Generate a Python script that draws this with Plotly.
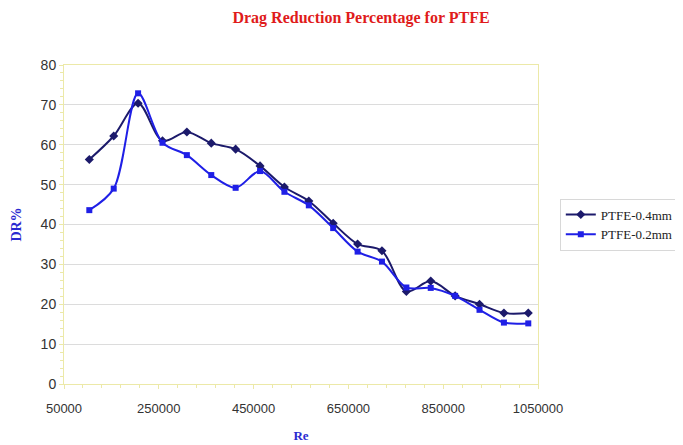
import plotly.graph_objects as go

# Data
re_values = [103400, 154900, 206300, 257800, 309200, 360700, 412100, 463600, 515000,
             566500, 617900, 669400, 720800, 772300, 823700, 875200, 926600, 978100, 1029500]
dr_04mm = [56.3, 62.2, 70.4, 61.0, 63.2, 60.4, 58.9, 54.7, 49.4, 45.9, 40.3, 35.1, 33.4,
           23.2, 25.8, 22.1, 20.0, 17.8, 17.8]
dr_02mm = [43.6, 49.0, 72.9, 60.5, 57.4, 52.4, 49.2, 53.4, 48.2, 44.8, 39.1, 33.2, 30.7,
           24.2, 24.1, 22.1, 18.6, 15.4, 15.2]
x_ticks = [50000, 250000, 450000, 650000, 850000, 1050000]
y_ticks = [0, 10, 20, 30, 40, 50, 60, 70, 80]

fig = go.Figure()
fig.add_trace(go.Scatter(
    x=re_values, y=dr_04mm, name="PTFE-0.4mm", mode="lines+markers",
    line=dict(color="#1c1a6b", width=2, shape="spline", smoothing=0.9),
    marker=dict(symbol="diamond", size=7, color="#1c1a6b"),
))
fig.add_trace(go.Scatter(
    x=re_values, y=dr_02mm, name="PTFE-0.2mm", mode="lines+markers",
    line=dict(color="#1f1fe6", width=2, shape="spline", smoothing=0.9),
    marker=dict(symbol="square", size=6, color="#1f1fe6"),
))

# the page body adds an 8px margin, so the figure is 8px smaller than the window
axis_line = "#ece9a8"
fig.update_layout(
    width=675, height=437,
    margin=dict(l=56, r=145, t=57, b=61, autoexpand=False),
    paper_bgcolor="white", plot_bgcolor="white",
    title=dict(text="<b>Drag Reduction Percentage for PTFE</b>", x=0.523, xanchor="center",
               y=0.979, yanchor="middle",
               font=dict(family="Liberation Serif", size=16, color="#e01b1b")),
    legend=dict(x=1.046, xanchor="left", y=0.5, yanchor="middle",
                bgcolor="white", bordercolor="#d8d8d8", borderwidth=1,
                font=dict(family="Liberation Serif", size=13, color="#222222"),
                tracegroupgap=0, itemwidth=30),
    showlegend=True,
)
fig.update_xaxes(
    range=[50000, 1050000], tickvals=x_ticks, ticktext=[str(v) for v in x_ticks],
    automargin=False,
    showgrid=False, showline=True, linecolor=axis_line, linewidth=1, mirror=True,
    ticks="outside", ticklen=4, tickcolor=axis_line, ticklabelstandoff=8,
    minor=dict(dtick=40000, tick0=50000, ticks="outside", ticklen=3, tickcolor=axis_line, showgrid=False),
    tickfont=dict(family="Liberation Sans", size=13, color="#333333"),
    title=dict(text="<b>Re</b>", font=dict(family="Liberation Serif", size=13, color="#2a2ad0"), standoff=16),
    zeroline=False,
)
fig.update_yaxes(
    range=[0, 80], tickvals=y_ticks, automargin=False,
    showgrid=True, gridcolor="#dcdcdc", gridwidth=1,
    showline=True, linecolor=axis_line, linewidth=1, mirror=True,
    ticks="outside", ticklen=4, tickcolor=axis_line,
    minor=dict(dtick=2, ticks="outside", ticklen=3, tickcolor=axis_line, showgrid=False),
    tickfont=dict(family="Liberation Sans", size=14, color="#333333"),
    title=dict(text="<b>DR%</b>", font=dict(family="Liberation Serif", size=14, color="#2a2ad0"), standoff=15),
    zeroline=False,
)

fig.write_html("out.html")
